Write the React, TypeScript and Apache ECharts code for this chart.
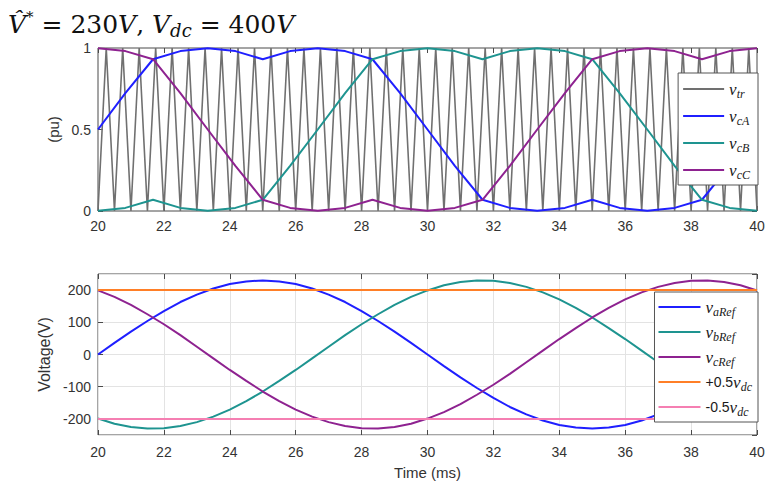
import React, { useEffect, useRef } from 'react';
import * as echarts from 'echarts';

// Carrier (triangle) vertices, 2 kHz
const carrierTimes = [20,20.25,20.5,20.75,21,21.25,21.5,21.75,22,22.25,22.5,22.75,23,23.25,23.5,23.75,24,24.25,24.5,24.75,25,25.25,25.5,25.75,26,26.25,26.5,26.75,27,27.25,27.5,27.75,28,28.25,28.5,28.75,29,29.25,29.5,29.75,30,30.25,30.5,30.75,31,31.25,31.5,31.75,32,32.25,32.5,32.75,33,33.25,33.5,33.75,34,34.25,34.5,34.75,35,35.25,35.5,35.75,36,36.25,36.5,36.75,37,37.25,37.5,37.75,38,38.25,38.5,38.75,39,39.25,39.5,39.75,40];
const carrierLevels = [0,1,0,1,0,1,0,1,0,1,0,1,0,1,0,1,0,1,0,1,0,1,0,1,0,1,0,1,0,1,0,1,0,1,0,1,0,1,0,1,0,1,0,1,0,1,0,1,0,1,0,1,0,1,0,1,0,1,0,1,0,1,0,1,0,1,0,1,0,1,0,1,0,1,0,1,0,1,0,1,0];

// Modulating signals (pu)
const modTimes = [20,20.83,21.67,22.5,23.33,24.17,25,25.83,26.67,27.5,28.33,29.17,30,30.83,31.67,32.5,33.33,34.17,35,35.83,36.67,37.5,38.33,39.17,40];
const vcA = [0.5,0.723,0.931,0.981,0.998,0.981,0.931,0.981,0.998,0.981,0.931,0.723,0.5,0.277,0.069,0.019,0.002,0.019,0.069,0.019,0.002,0.019,0.069,0.277,0.5];
const vcB = [0.002,0.019,0.069,0.019,0.002,0.019,0.069,0.277,0.5,0.723,0.931,0.981,0.998,0.981,0.931,0.981,0.998,0.981,0.931,0.723,0.5,0.277,0.069,0.019,0.002];
const vcC = [0.998,0.981,0.931,0.723,0.5,0.277,0.069,0.019,0.002,0.019,0.069,0.019,0.002,0.019,0.069,0.277,0.5,0.723,0.931,0.981,0.998,0.981,0.931,0.981,0.998];

// Reference voltages (V)
const refTimes = [20,20.5,21,21.5,22,22.5,23,23.5,24,24.5,25,25.5,26,26.5,27,27.5,28,28.5,29,29.5,30,30.5,31,31.5,32,32.5,33,33.5,34,34.5,35,35.5,36,36.5,37,37.5,38,38.5,39,39.5,40];
const vaRef = [0,36,71,104,135,163,186,205,219,227,230,227,219,205,186,163,135,104,71,36,0,-36,-71,-104,-135,-163,-186,-205,-219,-227,-230,-227,-219,-205,-186,-163,-135,-104,-71,-36,0];
const vbRef = [-199,-215,-225,-230,-229,-222,-210,-193,-171,-145,-115,-82,-48,-12,24,60,94,125,154,179,199,215,225,230,229,222,210,193,171,145,115,82,48,12,-24,-60,-94,-125,-154,-179,-199];
const vcRef = [199,179,154,125,94,60,24,-12,-48,-82,-115,-145,-171,-193,-210,-222,-229,-230,-225,-215,-199,-179,-154,-125,-94,-60,-24,12,48,82,115,145,171,193,210,222,229,230,225,215,199];
const dcTimes = [20, 40];
const dcPos = [200, 200];
const dcNeg = [-200, -200];

const pair = (xs: number[], ys: number[]) => xs.map((x, i) => [x, ys[i]]);

const SANS = 'Liberation Sans, Arial, sans-serif';
const SERIF = 'Liberation Serif, Times New Roman, serif';

const legendNames: Record<string, string> = {
  vtr: '{v|v}{s|tr}',
  vcA: '{v|v}{s|cA}',
  vcB: '{v|v}{s|cB}',
  vcC: '{v|v}{s|cC}',
  vaRef: '{v|v}{s|aRef}',
  vbRef: '{v|v}{s|bRef}',
  vcRefN: '{v|v}{s|cRef}',
  pos: '{n|+0.5}{v|v}{s|dc}',
  neg: '{n|-0.5}{v|v}{s|dc}',
};

const legendRich = {
  v: { fontFamily: SERIF, fontStyle: 'italic', fontSize: 17, color: '#1a1a1a', lineHeight: 18 },
  s: { fontFamily: SERIF, fontStyle: 'italic', fontSize: 12, color: '#1a1a1a', padding: [10, 0, 0, 0], lineHeight: 18 },
  n: { fontFamily: SANS, fontSize: 14, color: '#1a1a1a', lineHeight: 18 },
};

const TFONT = 'DejaVu Serif';
const titleRich = {
  V: { fontFamily: TFONT, fontStyle: 'italic', fontWeight: 'normal', fontSize: 25, color: '#111', lineHeight: 34 },
  n: { fontFamily: TFONT, fontWeight: 'normal', fontSize: 25, color: '#111', lineHeight: 34 },
  sup: { fontFamily: TFONT, fontWeight: 'normal', fontSize: 15, color: '#111', padding: [0, 0, 14, 0], lineHeight: 34 },
  sub: { fontFamily: TFONT, fontStyle: 'italic', fontWeight: 'normal', fontSize: 18, color: '#111', padding: [12, 0, 0, 0], lineHeight: 34 },
};

export default function App() {
  const ref = useRef<HTMLDivElement>(null);
  useEffect(() => {
    if (!ref.current) return;
    const chart = echarts.init(ref.current, undefined, { renderer: 'svg' });
    const tick = { show: true, inside: true, length: 5, lineStyle: { color: '#4a4a4a', width: 1 } };
    const label = { color: '#333', fontSize: 14, fontFamily: SANS };
    const nameStyle = { color: '#333', fontSize: 15, fontFamily: SANS };
    const xBase = {
      type: 'value', min: 20, max: 40, interval: 2,
      axisLine: { show: false, onZero: false }, axisTick: tick,
    };
    chart.setOption({
      animation: false,
      backgroundColor: '#fff',
      title: {
        left: 3, top: 2,
        text: '{V|V\u0302}{sup|*}{n| = 230}{V|V}{n|, }{V|V}{sub|dc}{n| = 400}{V|V}',
        textStyle: { fontWeight: 'normal', fontFamily: TFONT, rich: titleRich },
      },
      grid: [
        { left: 98, top: 48, width: 659, height: 163, show: true, borderColor: '#4a4a4a', borderWidth: 1, backgroundColor: 'transparent' },
        { left: 98, top: 274, width: 659, height: 161, show: true, borderColor: '#4a4a4a', borderWidth: 1, backgroundColor: 'transparent' },
      ],
      xAxis: [
        { ...xBase, gridIndex: 0, axisLabel: { ...label, margin: 8 }, splitLine: { show: false } },
        { ...xBase, gridIndex: 1, axisLabel: { ...label, margin: 10 }, splitLine: { show: true, lineStyle: { color: '#e3e3e3' } },
          name: 'Time (ms)', nameLocation: 'middle', nameGap: 30, nameTextStyle: nameStyle },
        { ...xBase, gridIndex: 0, position: 'top', axisLabel: { show: false }, splitLine: { show: false } },
        { ...xBase, gridIndex: 1, position: 'top', axisLabel: { show: false }, splitLine: { show: false } },
      ],
      yAxis: [
        { type: 'value', gridIndex: 0, min: 0, max: 1, interval: 0.5, axisLine: { show: false, onZero: false }, axisTick: tick,
          axisLabel: { ...label, margin: 7 }, splitLine: { show: false },
          name: '(pu)', nameLocation: 'middle', nameGap: 36, nameTextStyle: nameStyle },
        { type: 'value', gridIndex: 1, min: -250, max: 250, splitNumber: 5, axisLine: { show: false, onZero: false }, axisTick: tick,
          axisLabel: { ...label, margin: 7, showMinLabel: false, showMaxLabel: false },
          splitLine: { show: true, lineStyle: { color: '#e3e3e3' } },
          name: 'Voltage(V)', nameLocation: 'middle', nameGap: 46, nameTextStyle: { ...nameStyle, fontSize: 16 } },
        { type: 'value', gridIndex: 0, position: 'right', min: 0, max: 1, interval: 0.5, axisLine: { show: false, onZero: false }, axisTick: tick,
          axisLabel: { show: false }, splitLine: { show: false } },
        { type: 'value', gridIndex: 1, position: 'right', min: -250, max: 250, splitNumber: 5, axisLine: { show: false, onZero: false }, axisTick: tick,
          axisLabel: { show: false }, splitLine: { show: false } },
      ],
      legend: [
        {
          data: ['vtr', 'vcA', 'vcB', 'vcC'], orient: 'vertical', right: 10, top: 73,
          backgroundColor: '#fff', borderColor: '#555', borderWidth: 1, padding: [5, 8, 4, 5],
          itemGap: 5, itemWidth: 41, itemHeight: 2, icon: 'rect', selectedMode: false,
          formatter: (n: string) => legendNames[n], textStyle: { rich: legendRich },
        },
        {
          data: ['vaRef', 'vbRef', 'vcRefN', 'pos', 'neg'], orient: 'vertical', right: 10, top: 292,
          backgroundColor: '#fff', borderColor: '#555', borderWidth: 1, padding: [4, 6, 4, 4],
          itemGap: 3, itemWidth: 42, itemHeight: 2, icon: 'rect', selectedMode: false,
          formatter: (n: string) => legendNames[n], textStyle: { rich: legendRich },
        },
      ],
      series: [
        { name: 'vtr', type: 'line', xAxisIndex: 0, yAxisIndex: 0, data: pair(carrierTimes, carrierLevels), showSymbol: false, color: '#707070', lineStyle: { width: 1.6, color: '#707070' } },
        { name: 'vcA', type: 'line', xAxisIndex: 0, yAxisIndex: 0, data: pair(modTimes, vcA), showSymbol: false, color: '#1f1fff', lineStyle: { width: 2 } },
        { name: 'vcB', type: 'line', xAxisIndex: 0, yAxisIndex: 0, data: pair(modTimes, vcB), showSymbol: false, color: '#1e9490', lineStyle: { width: 2 } },
        { name: 'vcC', type: 'line', xAxisIndex: 0, yAxisIndex: 0, data: pair(modTimes, vcC), showSymbol: false, color: '#8e2290', lineStyle: { width: 2 } },
        { name: 'vaRef', type: 'line', xAxisIndex: 1, yAxisIndex: 1, data: pair(refTimes, vaRef), showSymbol: false, color: '#1f1fff', lineStyle: { width: 2 } },
        { name: 'vbRef', type: 'line', xAxisIndex: 1, yAxisIndex: 1, data: pair(refTimes, vbRef), showSymbol: false, color: '#1e9490', lineStyle: { width: 2 } },
        { name: 'vcRefN', type: 'line', xAxisIndex: 1, yAxisIndex: 1, data: pair(refTimes, vcRef), showSymbol: false, color: '#8e2290', lineStyle: { width: 2 } },
        { name: 'pos', type: 'line', xAxisIndex: 1, yAxisIndex: 1, data: pair(dcTimes, dcPos), showSymbol: false, color: '#ff7f27', lineStyle: { width: 2 } },
        { name: 'neg', type: 'line', xAxisIndex: 1, yAxisIndex: 1, data: pair(dcTimes, dcNeg), showSymbol: false, color: '#f57fb2', lineStyle: { width: 2 } },
      ],
    } as any);
    return () => chart.dispose();
  }, []);
  return <div ref={ref} style={{ position: 'absolute', left: 0, top: 0, width: 768, height: 488 }} />;
}
